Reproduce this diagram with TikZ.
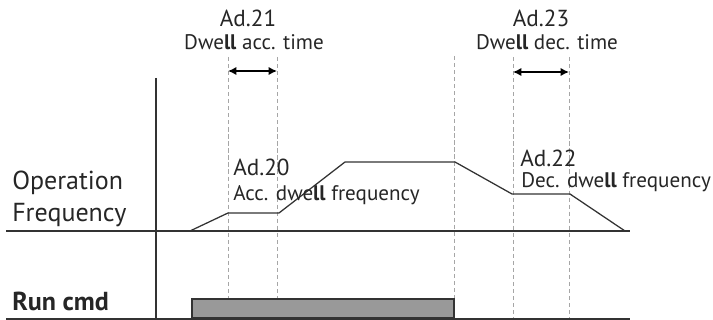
\documentclass[tikz,border=0pt]{standalone}
\usepackage{fontspec}
\setmainfont{PT Sans}
\usetikzlibrary{arrows.meta}
\tikzset{
  axislabel/.style={font=\fontsize{18.5}{20}\selectfont, text=black!85, inner sep=0pt},
  big/.style={font=\fontsize{16.5}{18}\selectfont, text=black!85, inner sep=0pt},
  small/.style={font=\fontsize{15}{17}\selectfont, text=black!85, inner sep=0pt},
  guide/.style={gray!70, densely dashed, line width=0.6pt},
  span/.style={{Latex[length=6pt,width=6pt]}-{Latex[length=6pt,width=6pt]}, line width=1.1pt},
  axis/.style={line width=1.2pt, black!80},
  profile/.style={line width=0.9pt, black!80}
}
\begin{document}
\begin{tikzpicture}[x=0.025cm,y=-0.025cm]
	
	\useasboundingbox (0,0) rectangle (713,320);
	
	% dwell guides
	\foreach \x/\t in {228/57, 277/57, 454/56, 513/57, 569/57}
		\draw[guide] (\x,\t) -- (\x,318);
	
	% dwell times
	\coordinate (acc1) at (228,71);
	\coordinate (acc2) at (277,71);
	\coordinate (dec1) at (513,72);
	\coordinate (dec2) at (569,72);
	\draw[span] (acc1) -- (acc2);
	\draw[span] (dec1) -- (dec2);
	
	% axes
	\draw[axis] (156,78) -- (156,320);
	\draw[axis] (6,231) -- (630,231);
	\draw[axis] (6,319) -- (630,319);
	
	% run command
	\filldraw[fill=gray!80, draw=black!80, line width=0.8pt] (192,299) rectangle (454,318);
	
	% frequency
	\draw[profile] (190,231) -- (228,213) -- (279,213) -- (345,162)
		-- (455,162) -- (512,194) -- (570,194) -- (625,231);
	
	% labels
	\node[big, anchor=base] (ad21) at (248,27) {Ad.21};
	\node[small, anchor=base] (ad21txt) at (254,50) {Dwe\textbf{ll} acc. time};
	\node[big, anchor=base] (ad23) at (541,27) {Ad.23};
	\node[small, anchor=base] (ad23txt) at (547,50) {Dwe\textbf{ll} dec. time};
	\node[big, anchor=base west] (ad20) at (233,176) {Ad.20};
	\node[small, anchor=base west] (ad20txt) at (233,201) {Acc. dwe\textbf{ll} frequency};
	\node[big, anchor=base west] (ad22) at (520,167) {Ad.22};
	\node[small, anchor=base west] (ad22txt) at (521,188) {Dec. dwe\textbf{ll} frequency};
	\node[axislabel, anchor=base west] (opfreq1) at (12,190) {Operation};
	\node[axislabel, anchor=base west] (opfreq2) at (12,222) {Frequency};
	\node[axislabel, anchor=base west, font=\fontsize{18.5}{20}\selectfont\bfseries] (runcmd) at (12,311) {Run cmd};
	
\end{tikzpicture}
\end{document}
